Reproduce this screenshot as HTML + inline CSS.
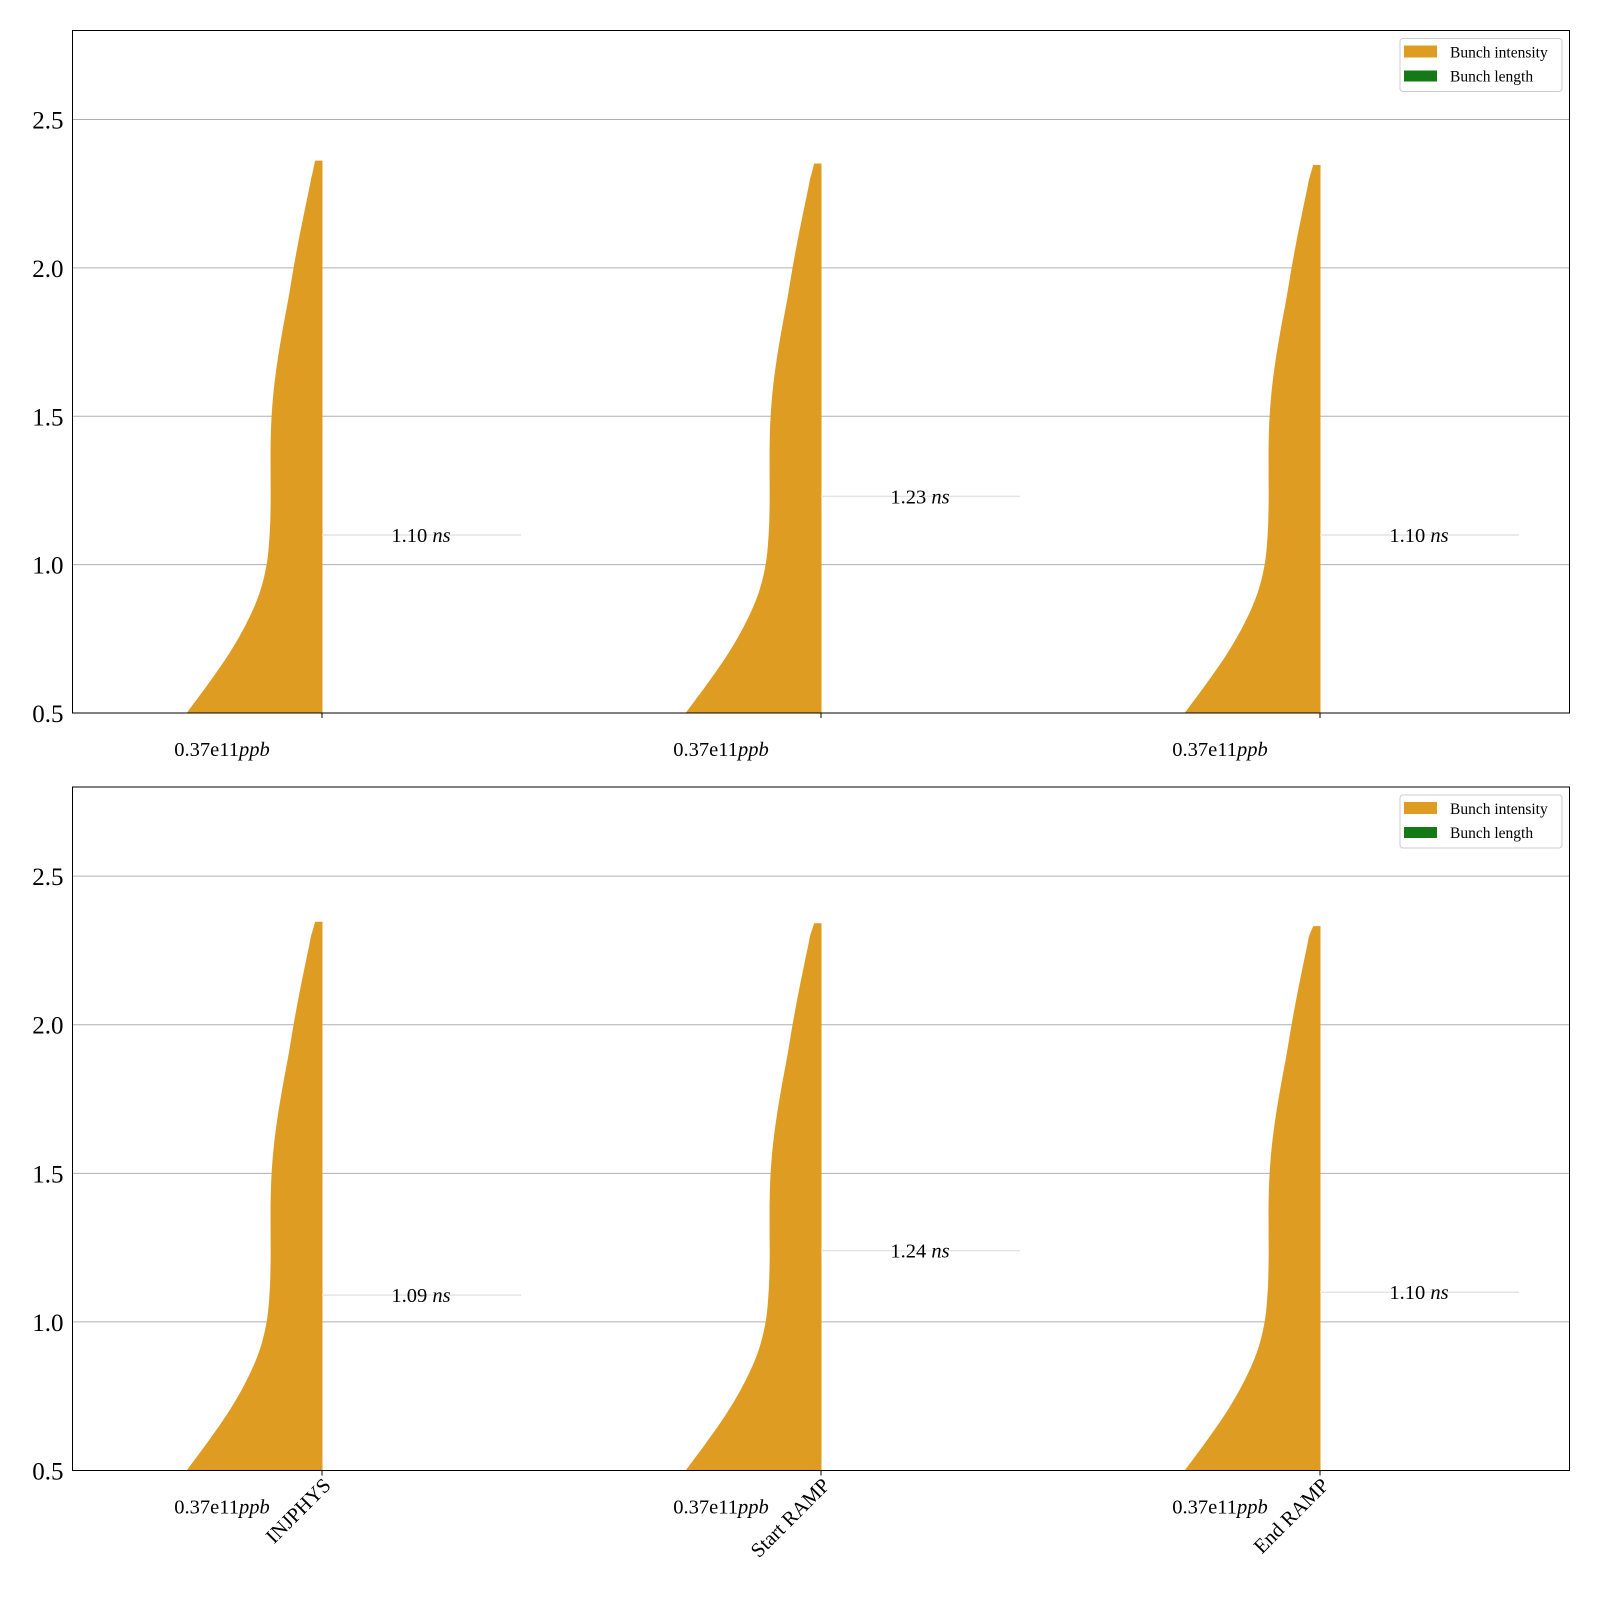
<!DOCTYPE html>
<html><head><meta charset="utf-8">
<style>
html,body{margin:0;padding:0;background:#fff;}
svg{display:block;font-family:"Liberation Serif",serif;}
</style></head>
<body>
<svg id="chart" width="1600" height="1600" viewBox="0 0 1600 1600"></svg>
<script>
const categories = ["INJPHYS", "Start RAMP", "End RAMP"];
const topMaxTop = [2.36, 2.35, 2.345];
const topMaxBottom = [2.345, 2.34, 2.33];
const lengthsTop = [1.10, 1.23, 1.10];
const lengthsBottom = [1.09, 1.24, 1.10];
const intensityLabels = ["0.37e11", "0.37e11", "0.37e11"];
const yTicks = [0.5, 1.0, 1.5, 2.0, 2.5];
// violin half-width profile (x data units) at y samples
const profileY = [0.5, 0.6, 0.7, 0.8, 0.9, 1.0, 1.1, 1.2, 1.3, 1.4, 1.5, 1.6, 1.7, 1.8, 1.9, 2.0, 2.1, 2.2, 2.3];
const profileW = [0.270, 0.226, 0.185, 0.151, 0.125, 0.110, 0.104, 0.102, 0.102, 0.102, 0.100, 0.095, 0.087, 0.077, 0.066, 0.056, 0.045, 0.033, 0.021];
const topWidth = 0.013;

const svg = document.getElementById('chart');
const NS = 'http://www.w3.org/2000/svg';
function mk(tag, attrs, parent){const e=document.createElementNS(NS,tag);for(const k in attrs)e.setAttribute(k,attrs[k]);(parent||svg).appendChild(e);return e;}

const X0 = 72.5, X1 = 1569.5;
const PX = (X1 - X0) / 3;
function xS(v){return X0 + (v + 0.5) * PX;}

function widthAt(y, top){
  const ys = profileY.filter(v=>v<top).concat([top]);
  const ws = profileW.slice(0, ys.length-1).concat([topWidth]);
  if (y >= top) return topWidth;
  const L = ws.length;
  for (let i=0;i<L-1;i++){
    if (y>=ys[i] && y<=ys[i+1]){
      const t=(y-ys[i])/(ys[i+1]-ys[i]);
      const p1=ws[i], p2=ws[i+1];
      const p0 = i>0 ? ws[i-1] : 2*p1-p2;
      const p3 = i+2<L ? ws[i+2] : 2*p2-p1;
      const t2=t*t,t3=t2*t;
      return 0.5*((2*p1)+(-p0+p2)*t+(2*p0-5*p1+4*p2-p3)*t2+(-p0+3*p1-3*p2+p3)*t3);
    }
  }
  return topWidth;
}

function panel(pTop, pBot, maxes, lengths, idx, showCats){
  const g = mk('g', {}, svg);
  
  
  function yS(v){return pBot - (v - 0.5) / 2.3 * (pBot - pTop);}
  yTicks.forEach(t=>{
    const yy=yS(t);
    const l=mk('line',{x1:X0,x2:X1,y1:yy,y2:yy,stroke:'#b0b0b0','stroke-width':1},g);
    
    
    const tx=mk('text',{x:X0-9,y:yy+9,'text-anchor':'end','font-size':25,fill:'#000'},g);
    tx.textContent=t.toFixed(1);
    
    
  });
  categories.forEach((c,i)=>{
    const top=maxes[i];
    let d='M'+xS(i)+','+yS(0.5);
    const n=150;
    for(let k=0;k<=n;k++){
      const y=0.5+(top-0.5)*k/n;
      d+=' L'+(xS(i)-widthAt(y,top)*PX)+','+yS(y);
    }
    d+=' L'+xS(i)+','+yS(top)+' Z';
    const p=mk('path',{d:d,fill:'#df9c22',stroke:'#df9c22','stroke-width':1},g);
    
    
    const ly=yS(lengths[i]);
    const ln=mk('line',{x1:xS(i),x2:xS(i)+199,y1:ly,y2:ly,stroke:'#e4e4e4','stroke-width':1.5},g);
    
    
    const lt=mk('text',{x:xS(i)+99,y:ly+7,'text-anchor':'middle','font-size':20.5},g);
    lt.innerHTML=lengths[i].toFixed(2)+' <tspan font-style="italic">ns</tspan>';
    
    
    const tk=mk('line',{x1:xS(i),x2:xS(i),y1:pBot,y2:pBot+5,stroke:'#000','stroke-width':1},g);
    
    
    const it=mk('text',{x:xS(i)-100,y:pBot+43,'text-anchor':'middle','font-size':20.5},g);
    it.innerHTML=intensityLabels[i]+'<tspan font-style="italic">ppb</tspan>';
    
    
    if(showCats){
      const ct=mk('text',{x:0,y:0,'text-anchor':'end','font-size':20.5,transform:'translate('+(xS(i)+10)+','+(pBot+16)+') rotate(-45)'},g);
      ct.textContent=c;
      
      
    }
  });
  const fr=mk('rect',{x:X0,y:pTop,width:X1-X0,height:pBot-pTop,fill:'none',stroke:'#000','stroke-width':1},g);
  
  
  const lg=mk('g',{},g);
  
  
  mk('rect',{x:1400,y:pTop+8,width:162,height:53,rx:3,fill:'#fff',stroke:'#ccc'},lg);
  mk('rect',{x:1404,y:pTop+15,width:33,height:12,fill:'#df9c22'},lg);
  mk('rect',{x:1404,y:pTop+40,width:33,height:11,fill:'#157a15'},lg);
  const l1=mk('text',{x:1450,y:pTop+27,'font-size':15.5},lg);l1.textContent='Bunch intensity';
  
  
  const l2=mk('text',{x:1450,y:pTop+51,'font-size':15.5},lg);l2.textContent='Bunch length';
  
  
}
panel(30.5, 713, topMaxTop, lengthsTop, 'top', false);
panel(787, 1470.5, topMaxBottom, lengthsBottom, 'bottom', true);
</script>
</body></html>
